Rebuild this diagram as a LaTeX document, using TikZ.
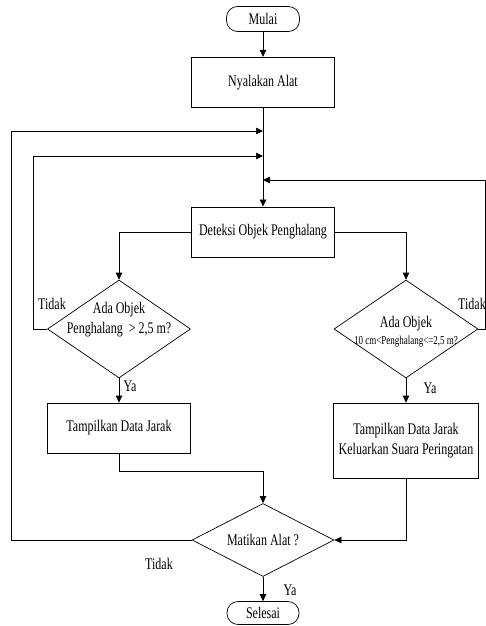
\documentclass[tikz,border=0pt]{standalone}
\usepackage{fontspec}
\setmainfont{Liberation Serif}
\usepackage{graphicx}
\usetikzlibrary{shapes.geometric,arrows.meta,positioning}
\newcommand{\tx}[1]{\scalebox{1}[1.35]{#1}}

\begin{document}
\begin{tikzpicture}[
    x=1pt,y=-1pt,
    line width=0.7pt,
    font=\fontsize{12}{20}\selectfont,
    term/.style={draw,rounded corners=11pt,minimum width=73pt,minimum height=25pt,inner sep=0pt},
    proc/.style={draw,minimum width=143pt,minimum height=50pt,inner sep=0pt,align=center},
    dec/.style={draw,diamond,inner sep=0pt,minimum width=143pt,minimum height=98pt},
    lbl/.style={inner sep=0pt},
    arrow/.style={-{Triangle[length=7pt,width=6.5pt]}}
  ]
    \useasboundingbox (0,0) rectangle (486,626);
    \node[term] (mulai) at (263,19) {\tx{Mulai}};
    \node[proc,below=25pt of mulai] (alat) {\tx{Nyalakan Alat}};
    \node[proc,below=99pt of alat] (deteksi) {\tx{Deteksi Objek Penghalang}};
    \node[dec,label={[align=center,yshift=9pt]center:\tx{Ada Objek}\\\tx{Penghalang\ \ > 2,5 m?}}] (cek1) at (119,329) {};
    \node[dec,minimum width=144pt,label={[align=center,yshift=-3pt]center:\tx{Ada Objek}\\[-3pt]{\fontsize{9}{10}\selectfont\tx{10 cm<Penghalang<=2,5 m?}}}] (cek2) at (406,329) {};
    \node[proc] (tampil) at (119,428) {\tx{Tampilkan Data Jarak}};
    \node[proc,minimum width=145pt,minimum height=75pt] (tampil2) at (406,440.5) {\tx{Tampilkan Data Jarak}\\\tx{Keluarkan Suara Peringatan}};
    \node[dec,minimum width=142pt,minimum height=73pt,label={center:\tx{Matikan Alat ?}}] (matikan) at (263,540) {};
    \node[term,minimum width=72pt,minimum height=23pt] (selesai) at (263,613) {\tx{Selesai}};
    % titik gabung
    \coordinate (j1) at (263,131);
    \coordinate (j2) at (263,156);
    \coordinate (j3) at (263,180);
    % label
    \node[lbl] (tidak1) at (52,304) {\tx{Tidak}};
    \node[lbl] (tidak2) at (472,304) {\tx{Tidak}};
    \node[lbl] (tidak3) at (159,564) {\tx{Tidak}};
    \node[lbl] (ya1) at (130,386) {\tx{Ya}};
    \node[lbl] (ya2) at (430,388) {\tx{Ya}};
    \node[lbl] (ya3) at (290,590) {\tx{Ya}};
    \draw[arrow] (mulai) -- (alat);
    \draw[arrow] (alat) -- (deteksi);
    \draw[arrow] (deteksi.west) -| (cek1.north);
    \draw[arrow] (deteksi.east) -| (cek2.north);
    \draw[arrow] (cek1.west) -- ++(-14,0) |- (j2);
    \draw[arrow] (cek2.east) -- ++(7,0) |- (j3);
    \draw[arrow] (cek1) -- (tampil);
    \draw[arrow] (cek2) -- (tampil2);
    \draw[arrow] (tampil.south) -- ++(0,18) -| (matikan.north);
    \draw[arrow] (tampil2.south) |- (matikan.east);
    \draw[arrow] (matikan.west) -- ++(-180,0) |- (j1);
    \draw[arrow] (matikan) -- (selesai);
  \end{tikzpicture}
\end{document}
